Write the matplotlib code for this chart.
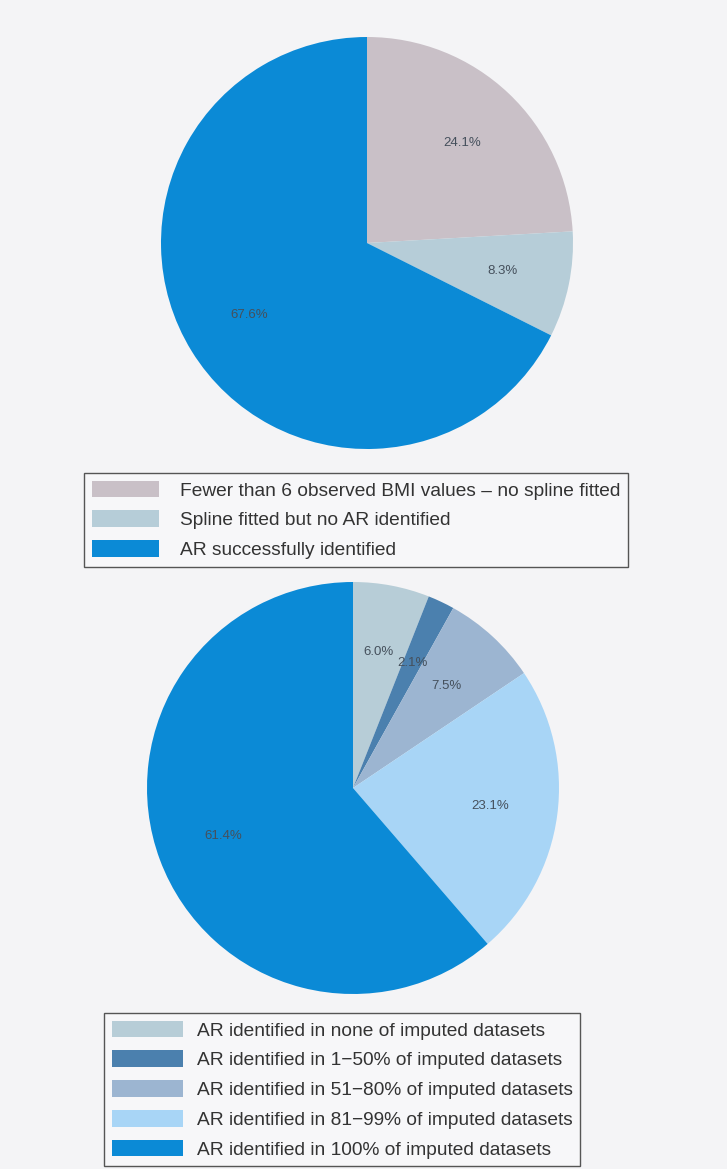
import matplotlib.pyplot as plt
from matplotlib.patches import Patch

plt.rcParams["font.family"] = ["Liberation Sans", "DejaVu Sans"]

# top pie: status of AR identification in observed data
labels_top = ["Fewer than 6 observed BMI values \u2013 no spline fitted",
              "Spline fitted but no AR identified",
              "AR successfully identified"]
values_top = [24.1, 8.3, 67.6]
colors_top = ["#c9c0c7", "#b6cdd8", "#0b8ad6"]

# bottom pie: AR identified across imputed datasets
labels_bot = ["AR identified in none of imputed datasets",
              "AR identified in 1\u221250% of imputed datasets",
              "AR identified in 51\u221280% of imputed datasets",
              "AR identified in 81\u221299% of imputed datasets",
              "AR identified in 100% of imputed datasets"]
values_bot = [6.0, 2.1, 7.5, 23.1, 61.4]
colors_bot = ["#b7cdd7", "#4b80ae", "#9cb5d1", "#a8d5f6", "#0b8ad6"]

W, H = 727, 1169
fig = plt.figure(figsize=(W / 100, H / 100), dpi=100)
fig.patch.set_facecolor("#f4f4f6")


def px_axes(cx, cy, r):
    return fig.add_axes([(cx - r) / W, 1 - (cy + r) / H, 2 * r / W, 2 * r / H])


def draw_pie(ax, values, colors):
    # printed percentages are the rounded published values
    vals = iter(values)
    ax.pie(values, colors=colors, startangle=90, counterclock=False,
           autopct=lambda p: "%.1f%%" % next(vals), pctdistance=0.67, radius=1,
           textprops=dict(fontsize=9.5, color="#45505c"))
    ax.set_xlim(-1, 1)
    ax.set_ylim(-1, 1)
    ax.set_aspect("equal")
    ax.axis("off")


ax1 = px_axes(367, 243, 206)
draw_pie(ax1, values_top, colors_top)
ax2 = px_axes(353, 788, 206)
draw_pie(ax2, values_bot, colors_bot)


def draw_legend(labels, colors, x, y, hl, pad):
    handles = [Patch(facecolor=c, edgecolor="none") for c in colors]
    leg = fig.legend(handles, labels, loc="upper left",
                     bbox_to_anchor=(x / W, 1 - y / H), fontsize=13.8,
                     frameon=True, fancybox=False, handlelength=hl,
                     handleheight=0.95, handletextpad=pad, labelspacing=0.57,
                     borderpad=0.4, borderaxespad=0)
    fr = leg.get_frame()
    fr.set_edgecolor("#555555")
    fr.set_linewidth(1.0)
    fr.set_facecolor("#f7f7f9")
    fr.set_alpha(1)
    for t in leg.get_texts():
        t.set_color("#333333")
    return leg


draw_legend(labels_top, colors_top, 84, 473, 3.5, 1.1)
draw_legend(labels_bot, colors_bot, 104, 1013, 3.7, 0.73)

fig.savefig("out.png", dpi=100, facecolor=fig.get_facecolor())
